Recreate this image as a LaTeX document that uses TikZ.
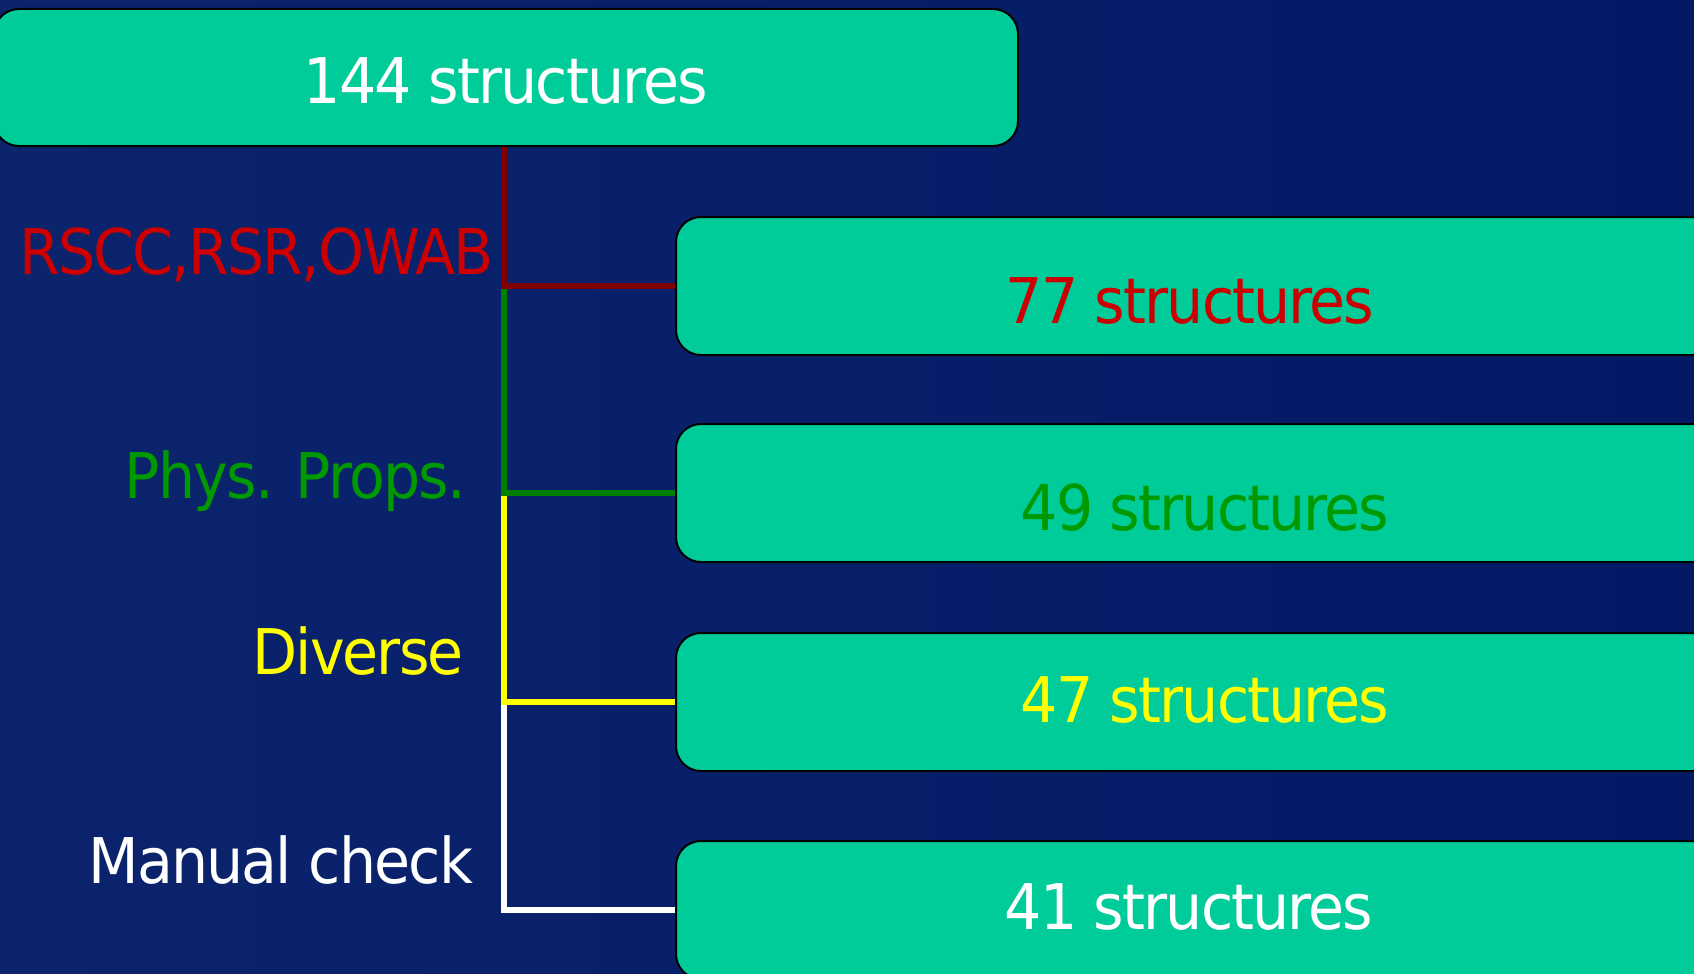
\documentclass[tikz,border=0pt]{standalone}
\usepackage{fontspec}
\setmainfont{DejaVu Sans}[FakeStretch=0.93, LetterSpace=-3]
\begin{document}
\definecolor{bgL}{RGB}{12,36,108}
\definecolor{bgR}{RGB}{2,26,102}
\definecolor{boxfill}{RGB}{0,204,153}
\definecolor{lblred}{RGB}{204,0,0}
\definecolor{lblgreen}{RGB}{0,153,0}
\definecolor{lnred}{RGB}{128,0,0}
\definecolor{lngreen}{RGB}{0,128,0}
\definecolor{lnyellow}{RGB}{255,255,0}
\pgfdeclarelayer{backdrop}
\pgfdeclarelayer{wires}
\pgfsetlayers{backdrop,wires,main}
\tikzset{
  box/.style={draw=black, line width=2pt, fill=boxfill, rounded corners=25pt,
    rectangle, inner sep=0pt},
  childbox/.style={box, minimum width=1048pt, minimum height=138pt},
  txt/.style={inner sep=0pt, font=\fontsize{63}{70}\selectfont},
  conn/.style={line width=6pt, line cap=butt, line join=miter},
}
\begin{tikzpicture}[x=1pt, y=-1pt]
\useasboundingbox (0,0) rectangle (1694,974);
\begin{pgfonlayer}{backdrop}
\shade[left color=bgL, right color=bgR] (0,0) rectangle (1694,974);
\end{pgfonlayer}
\coordinate (sp) at (504,0);
% boxes
\node[box, minimum width=1024pt, minimum height=137pt] (top) at (506,77.5) {};
\node[childbox] (b1) at (1200,286) {};
\node[childbox] (b2) at (1200,493) {};
\node[childbox] (b3) at (1200,702) {};
\node[childbox] (b4) at (1200,910) {};
% connectors (drawn bottom-up so upper corners lie on top)
\begin{pgfonlayer}{wires}
\draw[conn, white] (sp |- b3.west) |- (b4.west);
\draw[conn, lnyellow] (sp |- b2.west) |- (b3.west);
\draw[conn, lngreen] (sp |- b1.west) |- (b2.west);
\draw[conn, lnred] (sp |- top.south) |- (b1.west);
\end{pgfonlayer}
% box texts
\node[txt, anchor=base, text=white] (t0) at (506,103) {144 structures};
\node[txt, anchor=base, text=lblred] (t1) at (1190,323) {77 structures};
\node[txt, anchor=base, text=lblgreen] (t2) at (1205,530) {49 structures};
\node[txt, anchor=base, text=lnyellow] (t3) at (1205,722) {47 structures};
\node[txt, anchor=base, text=white] (t4) at (1189,929) {41 structures};
% branch labels
\node[txt, anchor=base east, text=lblred] (l1) at (494,274) {RSCC,RSR,OWAB};
\node[txt, anchor=base east, text=lblgreen] (l2) at (466,498) {Phys. Props.};
\node[txt, anchor=base east, text=lnyellow] (l3) at (464,674) {Diverse};
\node[txt, anchor=base east, text=white] (l4) at (473,883) {Manual check};
\end{tikzpicture}
\end{document}
